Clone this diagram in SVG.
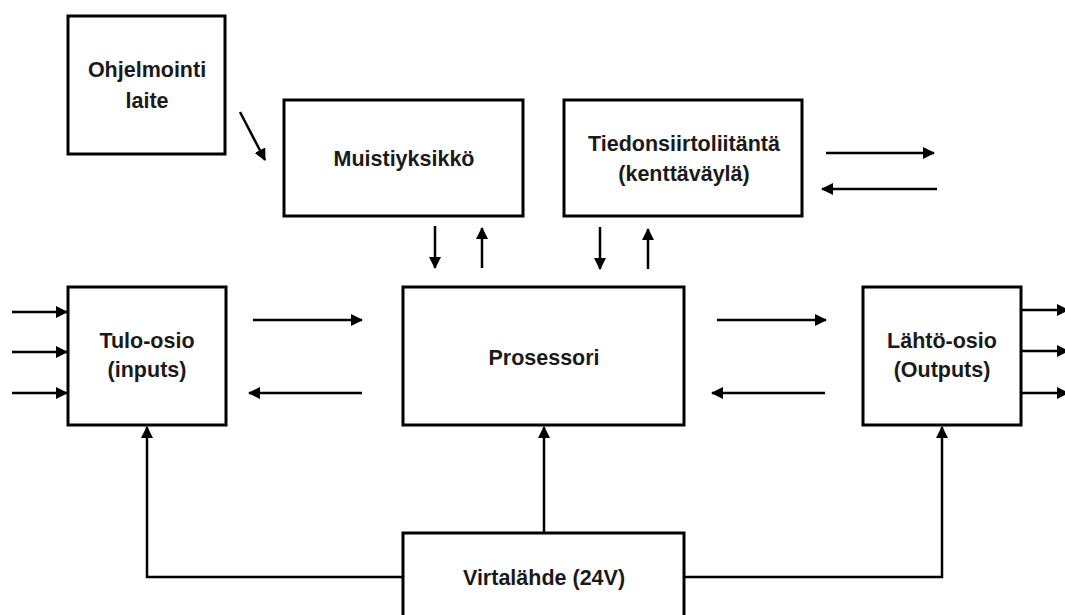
<svg xmlns="http://www.w3.org/2000/svg" width="1065" height="615" viewBox="0 0 1065 615">
  <style>
    .box { fill: #ffffff; stroke: #000000; stroke-width: 3; }
    .lbl { font-family: "Liberation Sans", Arial, sans-serif; font-weight: bold; font-size: 21.5px; fill: #1a1a1a; text-anchor: middle; }
    .wire { fill: none; stroke: #000000; stroke-width: 2.5; }
    .arr { fill: none; stroke: #000000; stroke-width: 2.5; marker-end: url(#head); }
  </style>
  <defs>
    <marker id="head" markerUnits="userSpaceOnUse" markerWidth="12" markerHeight="12" refX="11" refY="6" orient="auto">
      <path d="M0,0 L12,6 L0,12 z" fill="#000000"/>
    </marker>
  </defs>
  <rect width="1065" height="615" fill="#ffffff"/>

  <g id="ohjelmointilaite">
    <rect class="box" x="68" y="16" width="157" height="138"/>
    <text class="lbl" x="147" y="77">Ohjelmointi</text>
    <text class="lbl" x="147" y="108">laite</text>
  </g>

  <g id="muistiyksikko">
    <rect class="box" x="284" y="100" width="239" height="116"/>
    <text class="lbl" x="404" y="166">Muistiyksikkö</text>
  </g>

  <g id="tiedonsiirto">
    <rect class="box" x="564" y="100" width="238" height="116"/>
    <text class="lbl" x="684" y="151">Tiedonsiirtoliitäntä</text>
    <text class="lbl" x="684" y="181">(kenttäväylä)</text>
  </g>

  <g id="tulo">
    <rect class="box" x="68" y="287" width="158" height="138"/>
    <text class="lbl" x="147" y="348">Tulo-osio</text>
    <text class="lbl" x="147" y="377">(inputs)</text>
  </g>

  <g id="prosessori">
    <rect class="box" x="403" y="287" width="281" height="138"/>
    <text class="lbl" x="544" y="365">Prosessori</text>
  </g>

  <g id="lahto">
    <rect class="box" x="863" y="287" width="158" height="138"/>
    <text class="lbl" x="942" y="348">Lähtö-osio</text>
    <text class="lbl" x="942" y="377">(Outputs)</text>
  </g>

  <g id="virtalahde">
    <rect class="box" x="403" y="533" width="281" height="100"/>
    <text class="lbl" x="544" y="585">Virtalähde (24V)</text>
  </g>

  <g id="connectors">
    <!-- programming device to memory -->
    <line class="arr" x1="240" y1="112" x2="265" y2="160"/>
    <!-- memory <-> processor -->
    <line class="arr" x1="435" y1="226" x2="435" y2="268"/>
    <line class="arr" x1="482" y1="268" x2="482" y2="228"/>
    <!-- fieldbus interface <-> processor -->
    <line class="arr" x1="600" y1="227" x2="600" y2="269"/>
    <line class="arr" x1="648" y1="269" x2="648" y2="229"/>
    <!-- fieldbus external -->
    <line class="arr" x1="826" y1="153" x2="934" y2="153"/>
    <line class="arr" x1="937" y1="189" x2="822" y2="189"/>
    <!-- field inputs -->
    <line class="arr" x1="12" y1="312" x2="67" y2="312"/>
    <line class="arr" x1="12" y1="352" x2="67" y2="352"/>
    <line class="arr" x1="12" y1="393" x2="67" y2="393"/>
    <!-- inputs <-> processor -->
    <line class="arr" x1="253" y1="320" x2="362" y2="320"/>
    <line class="arr" x1="362" y1="393" x2="249" y2="393"/>
    <!-- processor <-> outputs -->
    <line class="arr" x1="717" y1="320" x2="826" y2="320"/>
    <line class="arr" x1="825" y1="393" x2="712" y2="393"/>
    <!-- field outputs -->
    <line class="arr" x1="1021" y1="310" x2="1068" y2="310"/>
    <line class="arr" x1="1021" y1="351" x2="1068" y2="351"/>
    <line class="arr" x1="1021" y1="393" x2="1068" y2="393"/>
    <!-- power supply feeds -->
    <polyline class="arr" points="403,577 147,577 147,427"/>
    <line class="arr" x1="544" y1="533" x2="544" y2="427"/>
    <polyline class="arr" points="684,577 942,577 942,427"/>
  </g>
</svg>
